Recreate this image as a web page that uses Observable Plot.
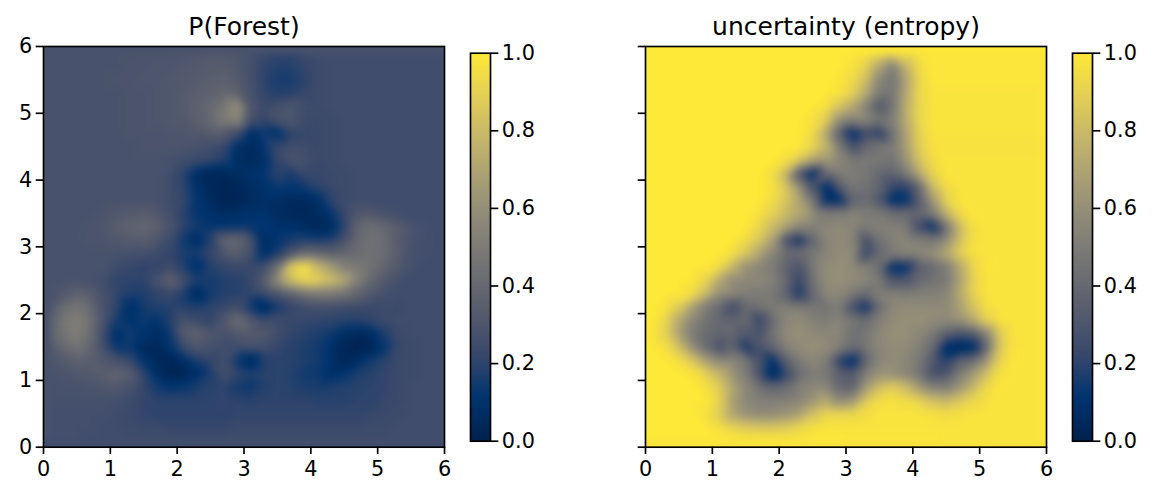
<!DOCTYPE html>
<html><head><meta charset="utf-8">
<script src="https://cdn.jsdelivr.net/npm/d3@7"></script>
<script src="https://cdn.jsdelivr.net/npm/@observablehq/plot@0.6"></script>
<style>
html,body{margin:0;padding:0;background:#fff;width:1154px;height:497px;overflow:hidden}
#c{position:relative;width:1154px;height:497px}
#c>*{position:absolute;top:0}
.t{font:25px "DejaVu Sans";color:#000;text-align:center;white-space:nowrap}
svg{background:none!important;overflow:visible}
</style></head><body><div id="c"></div>
<script>
const forestRows=[
[28,28,28,28,28,28,28,29,29,29,30,31,32,32,30,27,23,21,21,23,25,25,25,25,25,25,25,25,25,25],
[28,28,28,28,28,28,29,29,30,30,31,32,33,33,31,27,21,18,18,21,24,25,25,25,25,25,25,25,25,25],
[28,28,28,28,28,29,29,30,30,31,32,33,35,36,33,27,20,16,16,20,24,25,25,25,25,25,25,25,25,25],
[28,28,28,28,28,28,29,29,30,31,33,35,37,39,37,28,21,18,19,22,24,25,25,25,25,25,25,25,25,25],
[28,28,28,28,28,28,29,29,30,31,33,36,40,48,60,30,24,27,30,25,24,25,25,25,25,25,25,25,25,25],
[28,28,28,28,28,28,29,29,30,31,32,35,40,50,56,26,21,28,30,24,23,24,25,25,25,25,25,25,25,25],
[28,28,28,28,28,28,29,29,29,30,30,31,33,33,25,7,14,9,20,22,23,24,25,25,25,25,25,25,25,25],
[28,28,28,28,28,28,28,29,29,29,29,28,26,22,9,4,12,22,26,25,23,24,25,25,25,25,25,25,25,25],
[28,28,28,28,28,28,28,28,28,27,25,23,22,18,7,5,9,22,28,27,23,24,25,25,25,25,25,25,25,25],
[28,28,28,28,28,28,28,28,28,26,19,7,3,4,7,9,12,20,16,23,22,23,24,25,25,25,25,25,25,25],
[28,28,28,28,28,28,28,28,28,25,20,9,4,2,4,7,9,13,12,14,20,23,24,25,25,25,25,25,25,25],
[28,28,28,28,28,28,28,28,28,25,21,11,6,2,3,6,8,7,5,5,9,20,24,25,25,25,25,25,25,25],
[28,28,28,28,29,31,33,34,31,26,19,12,9,7,8,10,10,6,5,4,6,12,22,30,31,28,26,25,25,25],
[28,28,28,29,30,34,37,39,36,28,20,14,12,12,13,13,12,9,9,7,4,6,20,38,43,40,34,29,26,25],
[28,28,28,29,29,31,33,34,30,24,14,5,18,38,40,28,6,11,16,18,17,18,28,40,45,42,33,28,26,25],
[28,28,28,28,28,27,27,26,24,21,16,16,22,30,35,27,8,17,30,42,40,36,38,42,44,42,34,27,26,25],
[28,28,28,28,28,24,22,20,21,24,18,8,18,22,23,23,27,44,88,98,80,66,52,48,44,38,32,27,25,25],
[28,28,28,28,26,21,20,20,28,38,26,16,15,18,19,22,34,58,80,92,90,82,72,52,40,32,27,25,25,25],
[28,31,37,34,27,21,18,17,21,23,17,4,15,18,19,20,24,29,37,45,50,50,46,38,31,27,25,25,25,25],
[32,41,47,40,28,20,8,16,18,19,19,18,20,22,25,15,3,15,21,25,26,26,25,24,23,24,24,25,25,25],
[36,47,52,44,28,15,10,14,12,18,27,23,20,30,42,32,24,24,22,22,21,20,19,19,21,24,25,25,25,25],
[36,46,51,42,24,8,15,11,5,14,33,38,30,27,32,33,32,25,21,19,17,14,7,5,6,17,24,25,25,25],
[33,40,46,38,25,12,14,5,5,11,24,30,27,25,25,27,26,22,19,17,15,9,3,1,3,12,22,24,25,25],
[30,33,36,34,31,28,22,11,5,3,9,17,21,26,14,4,18,20,19,17,15,9,4,7,15,19,23,24,25,25],
[28,29,31,32,35,38,34,20,7,1,3,8,17,26,21,18,20,20,18,15,14,9,11,17,19,21,23,24,25,25],
[27,28,28,29,30,31,28,21,15,12,13,17,19,21,15,13,18,20,19,17,16,17,18,19,20,21,23,25,25,25],
[27,27,27,27,27,26,24,21,20,20,20,20,20,21,20,19,20,20,20,20,19,19,19,20,20,22,23,25,25,25],
[26,26,26,26,26,25,23,21,20,20,20,20,20,20,21,21,21,21,21,21,21,21,21,21,22,23,24,25,25,25],
[26,26,26,26,25,25,24,23,23,22,22,22,22,22,23,23,23,23,23,23,23,23,23,23,24,24,25,25,25,25],
[26,26,26,25,25,25,25,25,25,25,25,25,25,25,25,25,25,25,25,25,25,25,25,25,25,25,25,25,25,25]];
const entropyRows=[
[100,100,100,100,100,100,100,100,100,100,100,100,100,100,100,100,99,96,90,94,98,99,99,99,99,99,99,99,99,99],
[100,100,100,100,100,100,100,100,100,100,100,100,100,100,100,98,90,70,52,78,95,99,99,99,99,99,99,99,99,99],
[100,100,100,100,100,100,100,100,100,100,100,100,100,100,99,94,82,55,45,70,93,99,99,99,99,99,99,99,99,99],
[100,100,100,100,100,100,100,100,100,100,100,100,100,100,98,90,72,48,48,72,93,98,98,98,98,98,98,98,98,98],
[100,100,100,100,100,100,100,100,100,100,100,100,100,97,85,72,52,32,48,75,92,98,98,98,98,98,98,98,98,98],
[100,100,100,100,100,100,100,100,100,100,100,100,97,88,60,52,55,45,52,74,92,98,98,98,98,98,98,98,98,98],
[100,100,100,100,100,100,100,100,100,100,100,100,94,72,36,8,25,18,45,70,90,98,98,98,98,98,98,98,98,98],
[100,100,100,100,100,100,100,100,100,100,100,100,92,78,50,27,40,48,50,68,88,97,97,97,97,97,97,97,97,97],
[100,100,100,100,100,100,100,100,100,100,96,85,70,65,55,48,50,48,46,62,84,95,98,98,98,98,98,98,98,98],
[100,100,100,100,100,100,100,100,100,96,78,30,8,40,50,50,48,40,38,50,72,90,98,98,98,98,98,98,98,98],
[100,100,100,100,100,100,100,100,100,97,85,60,28,8,32,48,45,38,22,20,40,80,95,98,98,98,98,98,98,98],
[100,100,100,100,100,100,100,100,100,95,85,70,48,10,8,38,42,30,8,10,35,65,90,98,98,98,98,98,98,98],
[100,100,100,100,100,100,100,100,97,90,80,72,60,50,50,55,50,48,42,42,42,50,75,93,99,98,98,98,98,98],
[100,100,100,100,100,100,100,100,92,80,68,55,52,55,58,55,50,52,52,50,25,10,45,80,96,98,98,98,98,98],
[100,100,100,100,100,100,100,95,85,68,28,12,38,55,58,55,28,45,52,55,52,48,58,82,96,98,98,98,98,98],
[100,100,100,100,100,100,96,85,70,55,42,42,48,55,58,58,22,40,50,55,56,60,72,88,97,98,98,98,98,98],
[100,100,100,100,100,94,78,60,55,50,38,30,48,58,60,58,52,42,8,10,35,42,50,72,92,99,98,98,98,98],
[100,100,100,100,92,72,58,56,56,52,40,22,45,58,60,58,56,50,30,30,40,45,48,68,90,98,98,98,98,98],
[100,100,100,95,80,60,56,52,50,48,38,15,40,56,56,48,42,52,52,50,52,52,55,72,90,98,98,98,98,98],
[100,98,88,68,50,42,25,42,45,50,52,50,48,46,50,28,12,42,56,58,58,58,58,68,84,96,98,98,98,98],
[100,92,72,55,46,40,38,42,22,42,55,58,52,50,55,48,42,52,58,60,60,58,56,60,72,90,98,98,98,98],
[99,90,68,50,42,38,40,32,28,45,58,60,58,56,55,44,48,56,60,60,56,48,35,28,32,55,88,98,98,98],
[100,96,82,60,42,28,38,15,30,38,52,58,60,58,52,42,48,56,58,58,52,40,8,3,5,40,85,98,98,98],
[100,100,95,85,68,55,55,48,28,10,35,50,56,50,20,8,40,55,58,56,48,32,18,35,42,62,90,99,98,98],
[100,100,100,98,90,78,62,50,28,3,22,42,50,48,35,32,52,62,60,55,45,28,30,50,65,82,96,98,98,98],
[100,100,100,100,97,88,70,56,45,38,42,52,56,55,40,38,65,82,88,80,65,52,50,62,78,92,99,98,98,98],
[100,100,100,100,100,90,68,56,52,52,52,55,62,72,58,62,85,95,97,95,90,82,78,85,92,97,98,98,98,98],
[100,100,100,100,97,88,70,60,58,58,62,68,82,92,92,92,96,98,98,98,98,97,95,96,98,98,98,98,98,98],
[100,100,100,100,100,96,90,86,85,85,87,92,96,98,98,98,98,98,98,98,98,98,98,98,98,98,98,98,98,98],
[100,100,100,100,100,100,100,100,100,100,100,100,100,100,100,99,99,99,99,99,99,99,98,98,98,98,98,98,98,98]];
const axisTicks=[0,1,2,3,4,5,6];
const barTicks=[0,0.2,0.4,0.6,0.8,1];
const barLevels=d3.range(256).map(i=>1-i/255);
const colorStops=["#00224e","#00346f","#38486b","#575c6d","#707173","#8a8678","#a69d75","#c4b56b","#e3cf57","#fee838"];
const titles=["P(Forest)","uncertainty (entropy)"];
const INK="#000",LW=1.67,TICK=7.3,FS=20.8;
const color={type:"linear",domain:colorStops.map((_,i)=>i/(colorStops.length-1)),range:colorStops};
const root=document.getElementById("c");
const place=(el,left)=>{el.style.left=left+"px";root.appendChild(el)};
const fnt={fontFamily:"DejaVu Sans",fontVariant:"normal"};
function heat(rows,showY){
  const W=420,H=497,ml=43;
  const pts=rows.flatMap((r,j)=>r.map((v,i)=>({x:(i+.5)*6/r.length,y:6-(j+.5)*6/rows.length,v:v/100})));
  return Plot.plot({width:W,height:H,marginLeft:ml,marginRight:W-ml-401,marginTop:46,marginBottom:H-446.7,
    style:fnt,
    x:{domain:[0,6],axis:null},y:{domain:[0,6],axis:null},color,
    marks:[
      Plot.raster(pts,{x:"x",y:"y",fill:"v",interpolate:"barycentric",pixelSize:1,blur:3}),
      Plot.frame({stroke:INK,strokeWidth:LW}),
      Plot.axisX(axisTicks,{anchor:"bottom",label:null,tickSize:TICK,tickPadding:7,fontSize:FS,stroke:INK,fill:INK,strokeWidth:LW,strokeOpacity:1,tickFormat:d=>String(d)}),
      Plot.axisY(axisTicks,{anchor:"left",label:null,tickSize:TICK,tickPadding:4,fontSize:FS,stroke:INK,fill:INK,strokeWidth:LW,strokeOpacity:1,tickFormat:showY?(d=>String(d)):(()=>"")})
    ]});
}
function bar(){
  const W=100,H=497;
  return Plot.plot({width:W,height:H,marginLeft:0,marginRight:W-20,marginTop:52.7,marginBottom:H-440.7,
    style:fnt,x:{domain:[0,1],axis:null},y:{domain:[0,1],axis:null},color,
    marks:[
      Plot.raster(barLevels,{width:1,height:256,x1:0,x2:1,y1:1,y2:0,fill:d=>d}),
      Plot.frame({stroke:INK,strokeWidth:LW}),
      Plot.axisY(barTicks,{anchor:"right",label:null,tickSize:TICK,tickPadding:4,fontSize:FS,stroke:INK,fill:INK,strokeWidth:LW,strokeOpacity:1,tickFormat:d=>d.toFixed(1)})
    ]});
}
place(heat(forestRows,true),0);
place(heat(entropyRows,false),602);
place(bar(),469.5);
place(bar(),1071.5);
titles.forEach((t,i)=>{const d=document.createElement("div");d.className="t";d.textContent=t;
  d.style.width="402px";d.style.top="12px";place(d,43+602*i)});
</script></body></html>
